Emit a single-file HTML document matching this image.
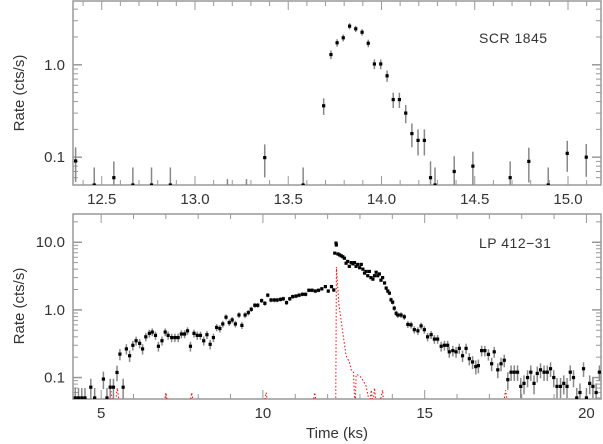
<!DOCTYPE html>
<html><head><meta charset="utf-8">
<style>
html,body{margin:0;padding:0;background:#fff;}
svg{display:block;font-family:"Liberation Sans",sans-serif;}
</style></head>
<body>
<svg id="chart" width="603" height="444" viewBox="0 0 603 444" xmlns="http://www.w3.org/2000/svg"></svg>
<script>
// ---- Top panel data (SCR 1845) ----
const topTimes = [12.36,12.46,12.565,12.667,12.767,12.868,13.174,13.276,13.374,13.58,13.69,13.729,13.762,13.795,13.829,13.862,13.896,13.929,13.962,13.996,14.03,14.063,14.096,14.13,14.163,14.196,14.23,14.263,14.287,14.39,14.49,14.69,14.79,14.894,14.996,15.098];
const topRates = [0.091,0.05,0.06,0.05,0.05,0.05,0.035,0.035,0.099,0.05,0.36,1.29,1.73,1.96,2.62,2.45,2.25,1.71,1.02,1.02,0.76,0.42,0.42,0.30,0.18,0.152,0.152,0.06,0.05,0.07,0.08,0.06,0.09,0.05,0.11,0.10];
const topXTicks = [12.5,13.0,13.5,14.0,14.5,15.0];
const topXLabels = ["12.5","13.0","13.5","14.0","14.5","15.0"];
const topYTicks = [1.0,0.1];
const topYLabels = ["1.0","0.1"];

// ---- Bottom panel data (LP 412-31) ----
const botTimes = [4.2,4.3,4.4,4.5,4.68,4.8,5.07,5.18,5.28,5.38,5.49,5.58,5.68,5.78,5.88,5.98,6.08,6.19,6.28,6.38,6.49,6.58,6.68,6.77,6.88,6.98,7.07,7.18,7.28,7.38,7.48,7.58,7.67,7.76,7.87,7.97,8.07,8.17,8.27,8.37,8.47,8.57,8.67,8.76,8.86,8.96,9.05,9.15,9.26,9.35,9.45,9.55,9.64,9.75,9.84,9.96,10.06,10.15,10.25,10.35,10.44,10.54,10.63,10.73,10.83,10.92,11.02,11.12,11.22,11.32,11.42,11.52,11.62,11.72,11.82,11.93,12.02,12.12,12.19,12.22,12.26,12.27,12.32,12.37,12.42,12.47,12.52,12.57,12.62,12.67,12.73,12.78,12.83,12.88,12.93,12.99,13.04,13.09,13.14,13.19,13.24,13.29,13.34,13.40,13.45,13.50,13.55,13.60,13.65,13.70,13.76,13.81,13.86,13.91,13.96,14.01,14.06,14.12,14.17,14.27,14.37,14.48,14.58,14.68,14.79,14.89,14.99,15.09,15.2,15.3,15.4,15.51,15.61,15.71,15.76,15.87,15.97,16.07,16.17,16.28,16.38,16.48,16.58,16.66,16.76,16.86,16.97,17.07,17.15,17.26,17.36,17.46,17.57,17.67,17.77,17.87,17.97,18.07,18.18,18.28,18.38,18.48,18.58,18.69,18.79,18.89,18.99,19.09,19.2,19.3,19.4,19.5,19.6,19.7,19.8,19.91,20.0,20.1,20.2,20.3,20.4];
const botRates = [0.05,0.05,0.05,0.05,0.072,0.05,0.095,0.05,0.072,0.072,0.119,0.222,0.072,0.265,0.21,0.30,0.35,0.32,0.265,0.40,0.45,0.47,0.42,0.29,0.35,0.47,0.42,0.39,0.39,0.39,0.44,0.44,0.49,0.29,0.45,0.42,0.42,0.35,0.43,0.31,0.39,0.55,0.53,0.62,0.78,0.65,0.71,0.62,0.84,0.59,0.84,0.91,1.02,1.17,1.17,1.37,1.25,1.65,1.40,1.40,1.40,1.43,1.46,1.28,1.46,1.57,1.60,1.65,1.70,1.70,1.95,1.95,1.90,1.95,2.05,2.21,1.90,2.21,1.97,6.9,9.7,9.1,6.7,6.5,6.3,6.1,5.8,4.9,5.2,4.4,5.0,4.8,5.0,4.4,4.7,4.2,4.7,4.0,3.5,3.7,3.2,3.7,3.0,2.85,3.2,3.6,3.2,3.4,2.75,3.0,2.5,2.1,1.9,1.77,1.41,1.3,1.06,0.89,0.84,0.84,0.79,0.61,0.60,0.51,0.49,0.58,0.51,0.40,0.43,0.37,0.37,0.29,0.30,0.30,0.24,0.25,0.24,0.27,0.21,0.27,0.19,0.17,0.145,0.15,0.25,0.25,0.22,0.16,0.24,0.13,0.16,0.18,0.093,0.12,0.12,0.12,0.074,0.082,0.10,0.12,0.082,0.115,0.13,0.12,0.12,0.135,0.10,0.074,0.074,0.082,0.074,0.12,0.10,0.05,0.06,0.135,0.05,0.082,0.074,0.06,0.12];
const redTimes = [4.2,5.2,5.3,5.4,5.5,5.6,6.9,7.0,7.1,7.7,7.8,7.9,10.0,10.1,10.2,11.5,11.6,11.7,12.25,12.27,12.35,12.47,12.57,12.67,12.73,12.8,12.85,12.88,12.92,13.04,13.19,13.3,13.35,13.4,13.45,13.5,13.6,13.7,13.75,13.8,17.4,17.5,17.6,20.4];
const redRates = [0.03,0.03,0.065,0.03,0.07,0.03,0.03,0.06,0.03,0.03,0.06,0.03,0.03,0.06,0.03,0.03,0.06,0.03,0.03,4.3,1.2,0.46,0.21,0.17,0.13,0.12,0.03,0.11,0.11,0.10,0.075,0.04,0.065,0.04,0.07,0.04,0.04,0.065,0.03,0.03,0.03,0.065,0.03,0.03];
const botXTicks = [5,10,15,20];
const botXLabels = ["5","10","15","20"];
const botYTicks = [10,1,0.1];
const botYLabels = ["10.0","1.0","0.1"];

const NS = "http://www.w3.org/2000/svg";
const svg = document.getElementById('chart');
function mk(tag, attrs, parent){
  const e = document.createElementNS(NS, tag);
  for (const k in attrs) e.setAttribute(k, attrs[k]);
  (parent||svg).appendChild(e);
  return e;
}
const AX = "#999", TX = "#333";

function panel(cfg){
  const {x0,x1,y0,y1,tmin,tmax,lmin,lmax,name} = cfg;
  const X = t => x0 + (t - tmin)/(tmax - tmin)*(x1 - x0);
  const Y = v => y1 - (Math.log10(v) - lmin)/(lmax - lmin)*(y1 - y0);
  const g = mk('g', {});
  
  
  const cid = name + '-clip';
  const cp = mk('clipPath', {id: cid}, g);
  mk('rect', {x:x0, y:y0, width:x1-x0, height:y1-y0}, cp);
  for (let d = Math.floor(lmin); d <= Math.ceil(lmax); d++){
    for (let m = 1; m <= 9; m++){
      const v = m*Math.pow(10,d);
      const lv = Math.log10(v);
      if (lv < lmin || lv > lmax) continue;
      const y = Y(v), len = m===1 ? 9 : 5;
      const t1 = mk('line', {x1:x0, x2:x0+len, y1:y, y2:y, stroke:AX, 'stroke-width': m===1?1.5:1}, g);
      
      
      const t2 = mk('line', {x1:x1, x2:x1-len, y1:y, y2:y, stroke:AX, 'stroke-width': m===1?1.5:1}, g);
      
      
    }
  }
  cfg.yTicks.forEach((v,i) => {
    const tl = mk('text', {x:x0-8, y:Y(v)+5, 'text-anchor':'end', 'font-size':15, fill:TX}, g);
    tl.textContent = cfg.yLabels[i];
    
    
  });
  const minorStep = cfg.minorStep;
  for (let t = Math.ceil(tmin/minorStep)*minorStep; t <= tmax+1e-9; t += minorStep){
    const isMaj = cfg.xTicks.some(m => Math.abs(m - t) < 1e-6);
    const len = isMaj ? 9 : 5, x = X(t);
    const a = mk('line', {x1:x, x2:x, y1:y1, y2:y1-len, stroke:AX}, g);
    
    
    const b = mk('line', {x1:x, x2:x, y1:y0, y2:y0+len, stroke:AX}, g);
    
    
  }
  cfg.xTicks.forEach((t,i) => {
    const tl = mk('text', {x:X(t), y:y1+19, 'text-anchor':'middle', 'font-size':15, fill:TX}, g);
    tl.textContent = cfg.xLabels[i];
    
    
  });
  const fr = mk('rect', {x:x0, y:y0, width:x1-x0, height:y1-y0, fill:'none', stroke:AX, 'stroke-width':1.5}, g);
  
  
  const dg = mk('g', {'clip-path':'url(#'+cid+')'}, g);
  return {X, Y, dg, g};
}

function drawPoints(p, times, rates, k, seriesName){
  times.forEach((t,i) => {
    const v = rates[i], err = Math.sqrt(v*k);
    const lo = Math.max(v - err, 1e-3);
    const x = p.X(t);
    const eb = mk('line', {x1:x, x2:x, y1:p.Y(v+err), y2:p.Y(lo), stroke:'#888', 'stroke-width':1.5}, p.dg);
    
    
    const pt = mk('rect', {x:x-1.6, y:p.Y(v)-1.6, width:3.2, height:3.2, fill:'#000'}, p.dg);
    
    
  });
}

// Top panel: 0.05 at bottom (y=185), decade = 92.4 px
const lminT = Math.log10(0.05), lmaxT = lminT + (185-1)/92.4;
const pTop = panel({name:'scr1845', x0:73, x1:601, y0:1, y1:185, tmin:12.346, tmax:15.177,
  lmin:lminT, lmax:lmaxT,
  xTicks:topXTicks, xLabels:topXLabels, yTicks:topYTicks, yLabels:topYLabels, minorStep:0.1});
drawPoints(pTop, topTimes, topRates, 0.015, 'scr1845');

// Bottom panel
const lminB = -1 - (399-377.5)/67.8, lmaxB = 1 + (242.3-214)/67.8;
const pBot = panel({name:'lp412', x0:73, x1:601, y0:214, y1:399, tmin:4.13, tmax:20.45,
  lmin:lminB, lmax:lmaxB,
  xTicks:botXTicks, xLabels:botXLabels, yTicks:botYTicks, yLabels:botYLabels, minorStep:1});
const rd = redTimes.map((t,i) => pBot.X(t).toFixed(1) + ',' + pBot.Y(redRates[i]).toFixed(1)).join(' ');
const red = mk('polyline', {points:rd, fill:'none', stroke:'#f00', 'stroke-width':1, 'stroke-dasharray':'1.5,2'}, pBot.dg);


drawPoints(pBot, botTimes, botRates, 0.008, 'lp412');

function label(txt, attrs, nm){
  const t = mk('text', Object.assign({'font-size':15, fill:TX}, attrs));
  t.textContent = txt;
  
  
}
label('SCR 1845', {x:479, y:43, 'font-size':14, 'letter-spacing':'0.5'}, 'panel-label-scr1845');
label('LP 412\u221231', {x:479, y:248, 'font-size':14, 'letter-spacing':'0.5'}, 'panel-label-lp412');
label('Rate (cts/s)', {x:0, y:0, 'text-anchor':'middle', transform:'translate(24,93) rotate(-90)'}, 'y-axis-title-top');
label('Rate (cts/s)', {x:0, y:0, 'text-anchor':'middle', transform:'translate(24,306) rotate(-90)'}, 'y-axis-title-bottom');
label('Time (ks)', {x:337, y:438, 'text-anchor':'middle'}, 'x-axis-title');
</script>
</body></html>
